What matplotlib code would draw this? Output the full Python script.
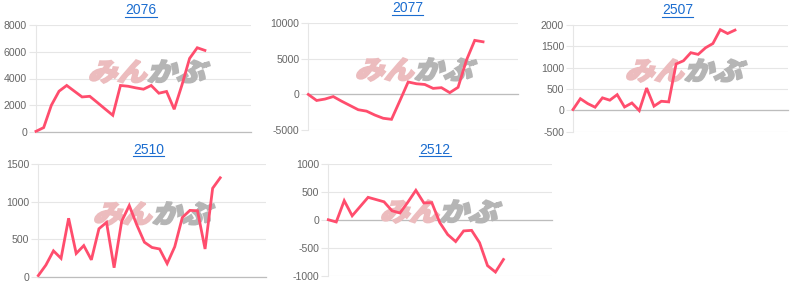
import matplotlib
matplotlib.use('Agg')
import matplotlib.pyplot as plt
from matplotlib.textpath import TextPath
from matplotlib.font_manager import FontProperties
from matplotlib.patches import PathPatch
from matplotlib.transforms import Affine2D, IdentityTransform
from matplotlib.lines import Line2D

# ---- data ----
titles = ['2076', '2077', '2507', '2510', '2512']
s2076 = [50, 330, 2000, 3050, 3480, 3050, 2620, 2670, 2200, 1720, 1250, 3480,
         3420, 3300, 3200, 3480, 2900, 3030, 1700, 3500, 5500, 6300, 6100]
s2077 = [0, -850, -650, -300, -950, -1550, -2150, -2350, -2900, -3350, -3500,
         -900, 1750, 1500, 1400, 850, 950, 250, 1000, 4800, 7600, 7400]
s2507 = [15, 270, 155, 70, 290, 235, 365, 75, 170, -10, 520, 95, 210, 195,
         1085, 1160, 1350, 1310, 1465, 1565, 1890, 1800, 1880]
s2510 = [15, 155, 345, 245, 780, 310, 415, 225, 640, 725, 120, 740, 950, 690,
         460, 390, 370, 175, 400, 790, 885, 880, 370, 1180, 1320]
s2512 = [5, -35, 345, 75, 240, 405, 365, 325, 165, 125, 320, 530, 305, 310,
         -45, -260, -385, -195, -185, -405, -815, -930, -705]
series = [s2076, s2077, s2507, s2510, s2512]
yticks = [[0, 2000, 4000, 6000, 8000],
          [-5000, 0, 5000, 10000],
          [-500, 0, 500, 1000, 1500, 2000],
          [0, 500, 1000, 1500],
          [-1000, -500, 0, 500, 1000]]

# ---- layout (pixels) ----
W, H = 800, 286
rects = [(36, 251, 25, 132), (308.3, 518, 23.3, 130), (573, 788, 25, 131.5),
         (38.3, 265.7, 164.3, 276.7), (328.3, 552, 164, 276)]
xmax = [28, 25.2, 29.2, 30.0, 28.1]
title_pos = [(141, 10.5), (407.5, 8.5), (677.5, 10.5), (148.5, 149.5), (435, 149.5)]
wm_pos = [(88, 60), (355, 58), (625, 59), (93, 202), (380, 200)]

LINE = '#ff4d6d'
GRID = '#e6e6e6'
ZERO = '#bdbdbd'
TICKC = '#666666'
BLUE = '#1a6ccf'

plt.rcParams['font.family'] = ['Liberation Sans', 'DejaVu Sans']
fig = plt.figure(figsize=(W / 100, H / 100), dpi=100)


def add_watermark(ax, x0, ytop, w=132, h=23):
    fp = FontProperties(family=['Noto Sans CJK JP'], weight='heavy')
    p1 = TextPath((0, 0), 'みん', prop=fp, size=10)
    p2 = TextPath((0, 0), 'かぶ', prop=fp, size=10)
    b1 = p1.get_extents()
    b2 = p2.get_extents()
    gap = 0.8
    totw = b1.width + gap + b2.width
    ymin = min(b1.y0, b2.y0)
    toth = max(b1.y1, b2.y1) - ymin
    sx = w / totw * 0.88
    sy = h / toth
    ybase = H - (ytop + h)
    t1 = (Affine2D().translate(-b1.x0, -ymin).scale(sx, sy)
          .skew_deg(18, 0).translate(x0, ybase))
    t2 = (Affine2D().translate(-b2.x0 + b1.width + gap, -ymin)
          .scale(sx, sy).skew_deg(18, 0).translate(x0, ybase))
    pa = PathPatch(t1.transform_path(p1), facecolor='#ecbcbe', edgecolor='#ecbcbe',
                   lw=1.3, transform=IdentityTransform(), zorder=1.5, clip_on=False)
    pb = PathPatch(t2.transform_path(p2), facecolor='#b5b5b5', edgecolor='#b5b5b5',
                   lw=1.3, transform=IdentityTransform(), zorder=1.5, clip_on=False)
    ax.add_artist(pa)
    ax.add_artist(pb)


axes = []
for i in range(5):
    x0, x1, yt, yb = rects[i]
    ax = fig.add_axes([x0 / W, 1 - yb / H, (x1 - x0) / W, (yb - yt) / H])
    ax.set_facecolor('none')
    vals = series[i]
    ax.plot(range(len(vals)), vals, color=LINE, lw=2.0, zorder=3,
            solid_joinstyle='miter', clip_on=False)
    ax.set_xlim(0, xmax[i])
    ax.set_ylim(yticks[i][0], yticks[i][-1])
    ax.set_yticks(yticks[i])
    ax.set_yticklabels([str(v) for v in yticks[i]])
    ax.set_xticks([])
    for s in ['top', 'right', 'bottom']:
        ax.spines[s].set_visible(False)
    ax.spines['left'].set_color(GRID)
    ax.spines['left'].set_linewidth(0.8)
    ax.tick_params(axis='y', length=5, width=0.8, color=GRID, pad=1.5,
                   labelsize=7.6, labelcolor=TICKC)
    ax.grid(axis='y', color=GRID, lw=0.8, zorder=0.5)
    ax.set_axisbelow(True)
    ax.axhline(0, color=ZERO, lw=0.9, zorder=1, clip_on=False)
    add_watermark(ax, *wm_pos[i])
    axes.append(ax)

# titles with underline
renderer = fig.canvas.get_renderer()
for i in range(5):
    cx, cy = title_pos[i]
    t = fig.text(cx / W, 1 - cy / H, titles[i], ha='center', va='center',
                 fontsize=10, color=BLUE)
    bb = t.get_window_extent(renderer=renderer)
    uy = bb.y0 + 0.3
    fig.add_artist(Line2D([bb.x0 / W, bb.x1 / W], [uy / H, uy / H],
                          transform=fig.transFigure, color=BLUE, lw=0.8))

fig.savefig('out.png', dpi=100)
